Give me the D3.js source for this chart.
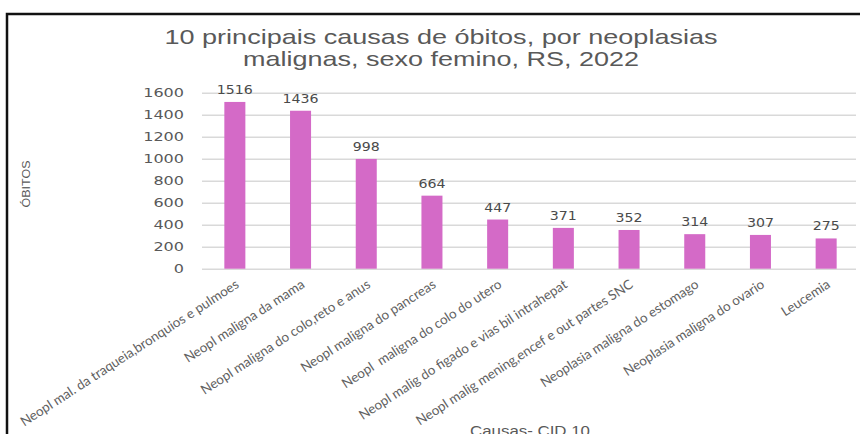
<!DOCTYPE html>
<html>
<head>
<meta charset="utf-8">
<script src="https://cdn.jsdelivr.net/npm/d3@7"></script>
<style>
  body { margin: 0; background: #fff; }
  svg { display: block; }
</style>
</head>
<body>
<div id="chart"></div>
<script>
const categories = [
  "Neopl mal. da traqueia,bronquios e pulmoes",
  "Neopl maligna da mama",
  "Neopl maligna do colo,reto e anus",
  "Neopl maligna do pancreas",
  "Neopl  maligna do colo do utero",
  "Neopl malig do figado e vias bil intrahepat",
  "Neopl malig mening,encef e out partes SNC",
  "Neoplasia maligna do estomago",
  "Neoplasia maligna do ovario",
  "Leucemia"
];
const obitos = [1516, 1436, 998, 664, 447, 371, 352, 314, 307, 275];
const yTicks = [0, 200, 400, 600, 800, 1000, 1200, 1400, 1600];
const titleLines = ["10 principais causas de óbitos, por neoplasias", "malignas, sexo femino, RS, 2022"];

const width = 860, height = 434;
const gray = "#595959";

const svg = d3.select("#chart").append("svg")
  .attr("width", width)
  .attr("height", height);

// frame (only top and left edges show in the crop)
svg.append("path")
  .attr("d", "M7,434V14H860")
  .attr("fill", "none")
  .attr("stroke", "#111")
  .attr("stroke-width", 2.5);

const x = d3.scaleBand()
  .domain(categories)
  .range([202, 859])
  .paddingInner(0.68)
  .paddingOuter(0.34);

const y = d3.scaleLinear()
  .domain([0, 1600])
  .range([268.7, 92.7]);

// y axis + gridlines
const yAxis = svg.append("g")
  .attr("transform", "translate(202,0)")
  .call(d3.axisLeft(y).tickValues(yTicks).tickFormat(d3.format("d")).tickSize(-654).tickPadding(18));
yAxis.select(".domain").remove();
yAxis.selectAll(".tick line")
  .attr("stroke", "#d9d9d9")
  .attr("stroke-width", 1.4);
yAxis.selectAll(".tick text")
  .attr("fill", gray)
  .style("font-family", "'DejaVu Sans', sans-serif")
  .style("font-size", "13px")
  .attr("textLength", d => String(d).length * 10.2)
  .attr("lengthAdjust", "spacingAndGlyphs");

// bars
svg.append("g")
  .selectAll("rect")
  .data(obitos)
  .join("rect")
  .attr("x", (d, i) => x(categories[i]))
  .attr("y", d => y(d))
  .attr("width", x.bandwidth())
  .attr("height", d => y(0) - y(d))
  .attr("fill", "#d46ac7");

// value labels
svg.append("g")
  .selectAll("text")
  .data(obitos)
  .join("text")
  .attr("x", (d, i) => x(categories[i]) + x.bandwidth() / 2)
  .attr("y", d => y(d) - 8)
  .attr("text-anchor", "middle")
  .attr("fill", "#4a4a4a")
  .style("font-family", "'DejaVu Sans', sans-serif")
  .style("font-size", "11.5px")
  .attr("textLength", d => String(d).length * 9)
  .attr("lengthAdjust", "spacingAndGlyphs")
  .text(d => d);

// x axis labels
const xAxis = svg.append("g")
  .attr("transform", `translate(0,${y(0)})`)
  .call(d3.axisBottom(x).tickSize(0));
xAxis.select(".domain").remove();
xAxis.selectAll(".tick text")
  .attr("x", 0)
  .attr("y", 0)
  .attr("dy", 0)
  .attr("transform", "translate(5,18) rotate(-33)")
  .attr("text-anchor", "end")
  .attr("fill", "#616161")
  .style("white-space", "pre")
  .style("font-family", "Lato, sans-serif")
  .style("font-size", "13.4px");

// title
svg.append("g")
  .selectAll("text")
  .data(titleLines)
  .join("text")
  .attr("x", 441)
  .attr("y", (d, i) => 44 + i * 22)
  .attr("text-anchor", "middle")
  .attr("fill", gray)
  .style("font-family", "'Liberation Sans', Arial, sans-serif")
  .style("font-size", "21px")
  .attr("textLength", (d, i) => i === 0 ? 553 : 396)
  .attr("lengthAdjust", "spacingAndGlyphs")
  .text(d => d);

// axis titles
svg.append("text")
  .attr("transform", "translate(30,184) rotate(-90)")
  .attr("text-anchor", "middle")
  .attr("fill", gray)
  .style("font-family", "'Liberation Sans', Arial, sans-serif")
  .style("font-size", "11.5px")
  .attr("textLength", 47)
  .attr("lengthAdjust", "spacingAndGlyphs")
  .text("ÓBITOS");

svg.append("text")
  .attr("x", 530)
  .attr("y", 436)
  .attr("text-anchor", "middle")
  .attr("fill", gray)
  .style("font-family", "'Liberation Sans', Arial, sans-serif")
  .style("font-size", "15px")
  .attr("textLength", 120)
  .attr("lengthAdjust", "spacingAndGlyphs")
  .text("Causas- CID 10");
</script>
</body>
</html>
